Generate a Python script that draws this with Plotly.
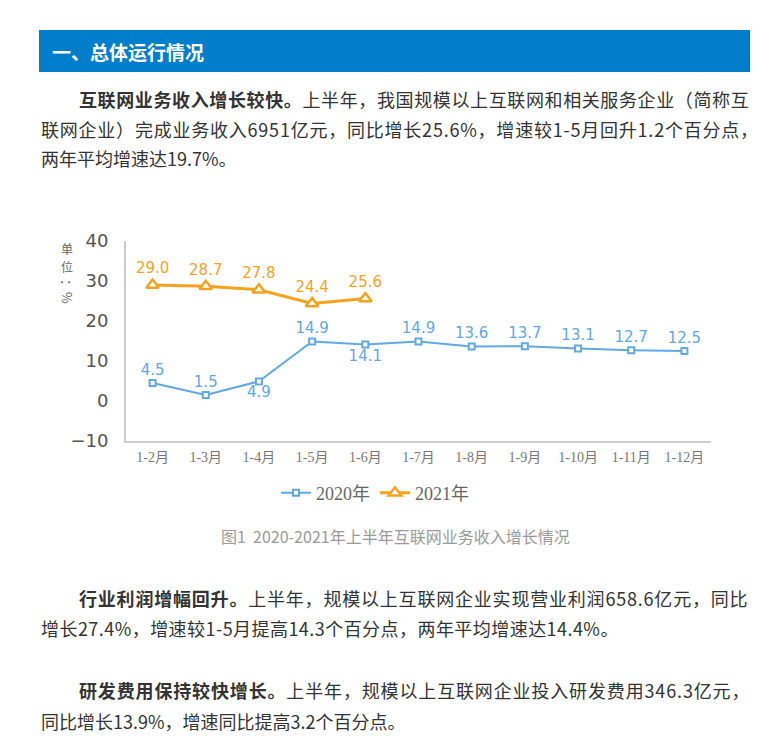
import plotly.graph_objects as go

# page body has an 8px margin, so the figure is sized to fit inside the viewport
PAGE_W, PAGE_H = 775, 749
OFF = 8
W, H = PAGE_W - 2 * OFF, PAGE_H - 2 * OFF

# ---- data ----
months = ["1-2月", "1-3月", "1-4月", "1-5月", "1-6月", "1-7月", "1-8月", "1-9月", "1-10月", "1-11月", "1-12月"]
growth_2020 = [4.5, 1.5, 4.9, 14.9, 14.1, 14.9, 13.6, 13.7, 13.1, 12.7, 12.5]
growth_2021 = [29.0, 28.7, 27.8, 24.4, 25.6]
label_pos_2020 = ["top center", "top center", "bottom center", "top center", "bottom center",
                  "top center", "top center", "top center", "top center", "top center", "top center"]

header_text = "一、总体运行情况"
para_lines = [
    # (text, x_px, y_px, letter_spacing)
    ("<b>互联网业务收入增长较快。</b>上半年，我国规模以上互联网和相关服务企业（简称互", 77, 99, 0.62),
    ("联网企业）完成业务收入6951亿元，同比增长25.6%，增速较1-5月回升1.2个百分点，", 39, 129, 0.78),
    ("两年平均增速达19.7%。", 39, 158, 0.0),
    ("<b>行业利润增幅回升。</b>上半年，规模以上互联网企业实现营业利润658.6亿元，同比", 77, 598, 0.8),
    ("增长27.4%，增速较1-5月提高14.3个百分点，两年平均增速达14.4%。", 39, 628, 0.45),
    ("<b>研发费用保持较快增长。</b>上半年，规模以上互联网企业投入研发费用346.3亿元，", 77, 690, 0.85),
    ("同比增长13.9%，增速同比提高3.2个百分点。", 39, 721, 0.0),
]
unit_chars = ["单", "位"]
unit_rest = "：%"
caption = "图1  2020-2021年上半年互联网业务收入增长情况"

BLUE = "#62A8E4"
ORANGE = "#F5A31F"
CJK = "Noto Sans CJK SC"


def px(x):
    return (x - OFF) / W


def py(y):
    return 1 - (y - OFF) / H


fig = go.Figure()

fig.add_trace(go.Scatter(
    x=months, y=growth_2020, name="2020年", mode="lines+markers+text",
    line=dict(color=BLUE, width=2),
    marker=dict(symbol="square", size=6, color="white", line=dict(color=BLUE, width=2)),
    text=[f"{v:.1f}" for v in growth_2020], textposition=label_pos_2020,
    textfont=dict(family="DejaVu Sans", size=15, color=BLUE),
    cliponaxis=False,
))
fig.add_trace(go.Scatter(
    x=months[:len(growth_2021)], y=growth_2021, name="2021年", mode="lines+markers+text",
    line=dict(color=ORANGE, width=3),
    marker=dict(symbol="triangle-up", size=11, color="white", line=dict(color=ORANGE, width=2.5)),
    text=[f"{v:.1f}" for v in growth_2021], textposition="top center",
    textfont=dict(family="DejaVu Sans", size=15, color=ORANGE),
    cliponaxis=False,
))

annotations = []
annotations.append(dict(text=f"<b>{header_text}</b>", x=px(50), y=py(51), xref="paper", yref="paper",
                        xanchor="left", yanchor="middle", showarrow=False,
                        font=dict(family=CJK, size=19, color="white")))
for t, x, y, ls in para_lines:
    txt = t if ls == 0 else f"<span style='letter-spacing:{ls}px'>{t}</span>"
    annotations.append(dict(text=txt, x=px(x), y=py(y), xref="paper", yref="paper",
                            xanchor="left", yanchor="middle", showarrow=False,
                            font=dict(family=CJK, size=18, color="#333333")))
for ch, yy in zip(unit_chars, [248, 266]):
    annotations.append(dict(text=ch, x=px(67), y=py(yy), xref="paper", yref="paper",
                            xanchor="center", yanchor="middle", showarrow=False,
                            font=dict(family=CJK, size=12, color="#666666")))
annotations.append(dict(text=unit_rest, x=px(67), y=py(291), xref="paper", yref="paper", textangle=90,
                        xanchor="center", yanchor="middle", showarrow=False,
                        font=dict(family=CJK, size=13, color="#666666")))
annotations.append(dict(text=caption, x=px(395), y=py(536), xref="paper", yref="paper",
                        xanchor="center", yanchor="middle", showarrow=False,
                        font=dict(family=CJK, size=16, color="#9a9a9a")))

fig.update_layout(
    width=W, height=H, autosize=False,
    margin=dict(l=0, r=0, t=0, b=0, pad=0, autoexpand=False),
    paper_bgcolor="white", plot_bgcolor="white",
    showlegend=True,
    legend=dict(orientation="h", x=px(276), xanchor="left", y=py(493), yanchor="middle",
                font=dict(family="Liberation Serif, " + CJK, size=18, color="#666666"),
                itemclick=False),
    xaxis=dict(domain=[px(126), px(711)], type="category", range=[-0.5, 10.5], automargin=False,
               showline=True, linecolor="#cccccc", linewidth=2, showgrid=False, zeroline=False,
               ticks="", ticklabelstandoff=2,
               tickfont=dict(family="Liberation Serif, " + CJK, size=14, color="#777777")),
    yaxis=dict(domain=[py(441), py(241)], range=[-10, 40], dtick=10, automargin=False,
               showline=True, linecolor="#cccccc", linewidth=2, showgrid=False, zeroline=False,
               ticks="", ticklabelstandoff=12,
               tickfont=dict(family="DejaVu Sans", size=18, color="#555555")),
    shapes=[dict(type="rect", xref="paper", yref="paper", x0=px(39), x1=px(750), y0=py(72), y1=py(30),
                 fillcolor="#007ECC", line=dict(width=0), layer="below")],
    annotations=annotations,
)

fig.write_html("out.html")
